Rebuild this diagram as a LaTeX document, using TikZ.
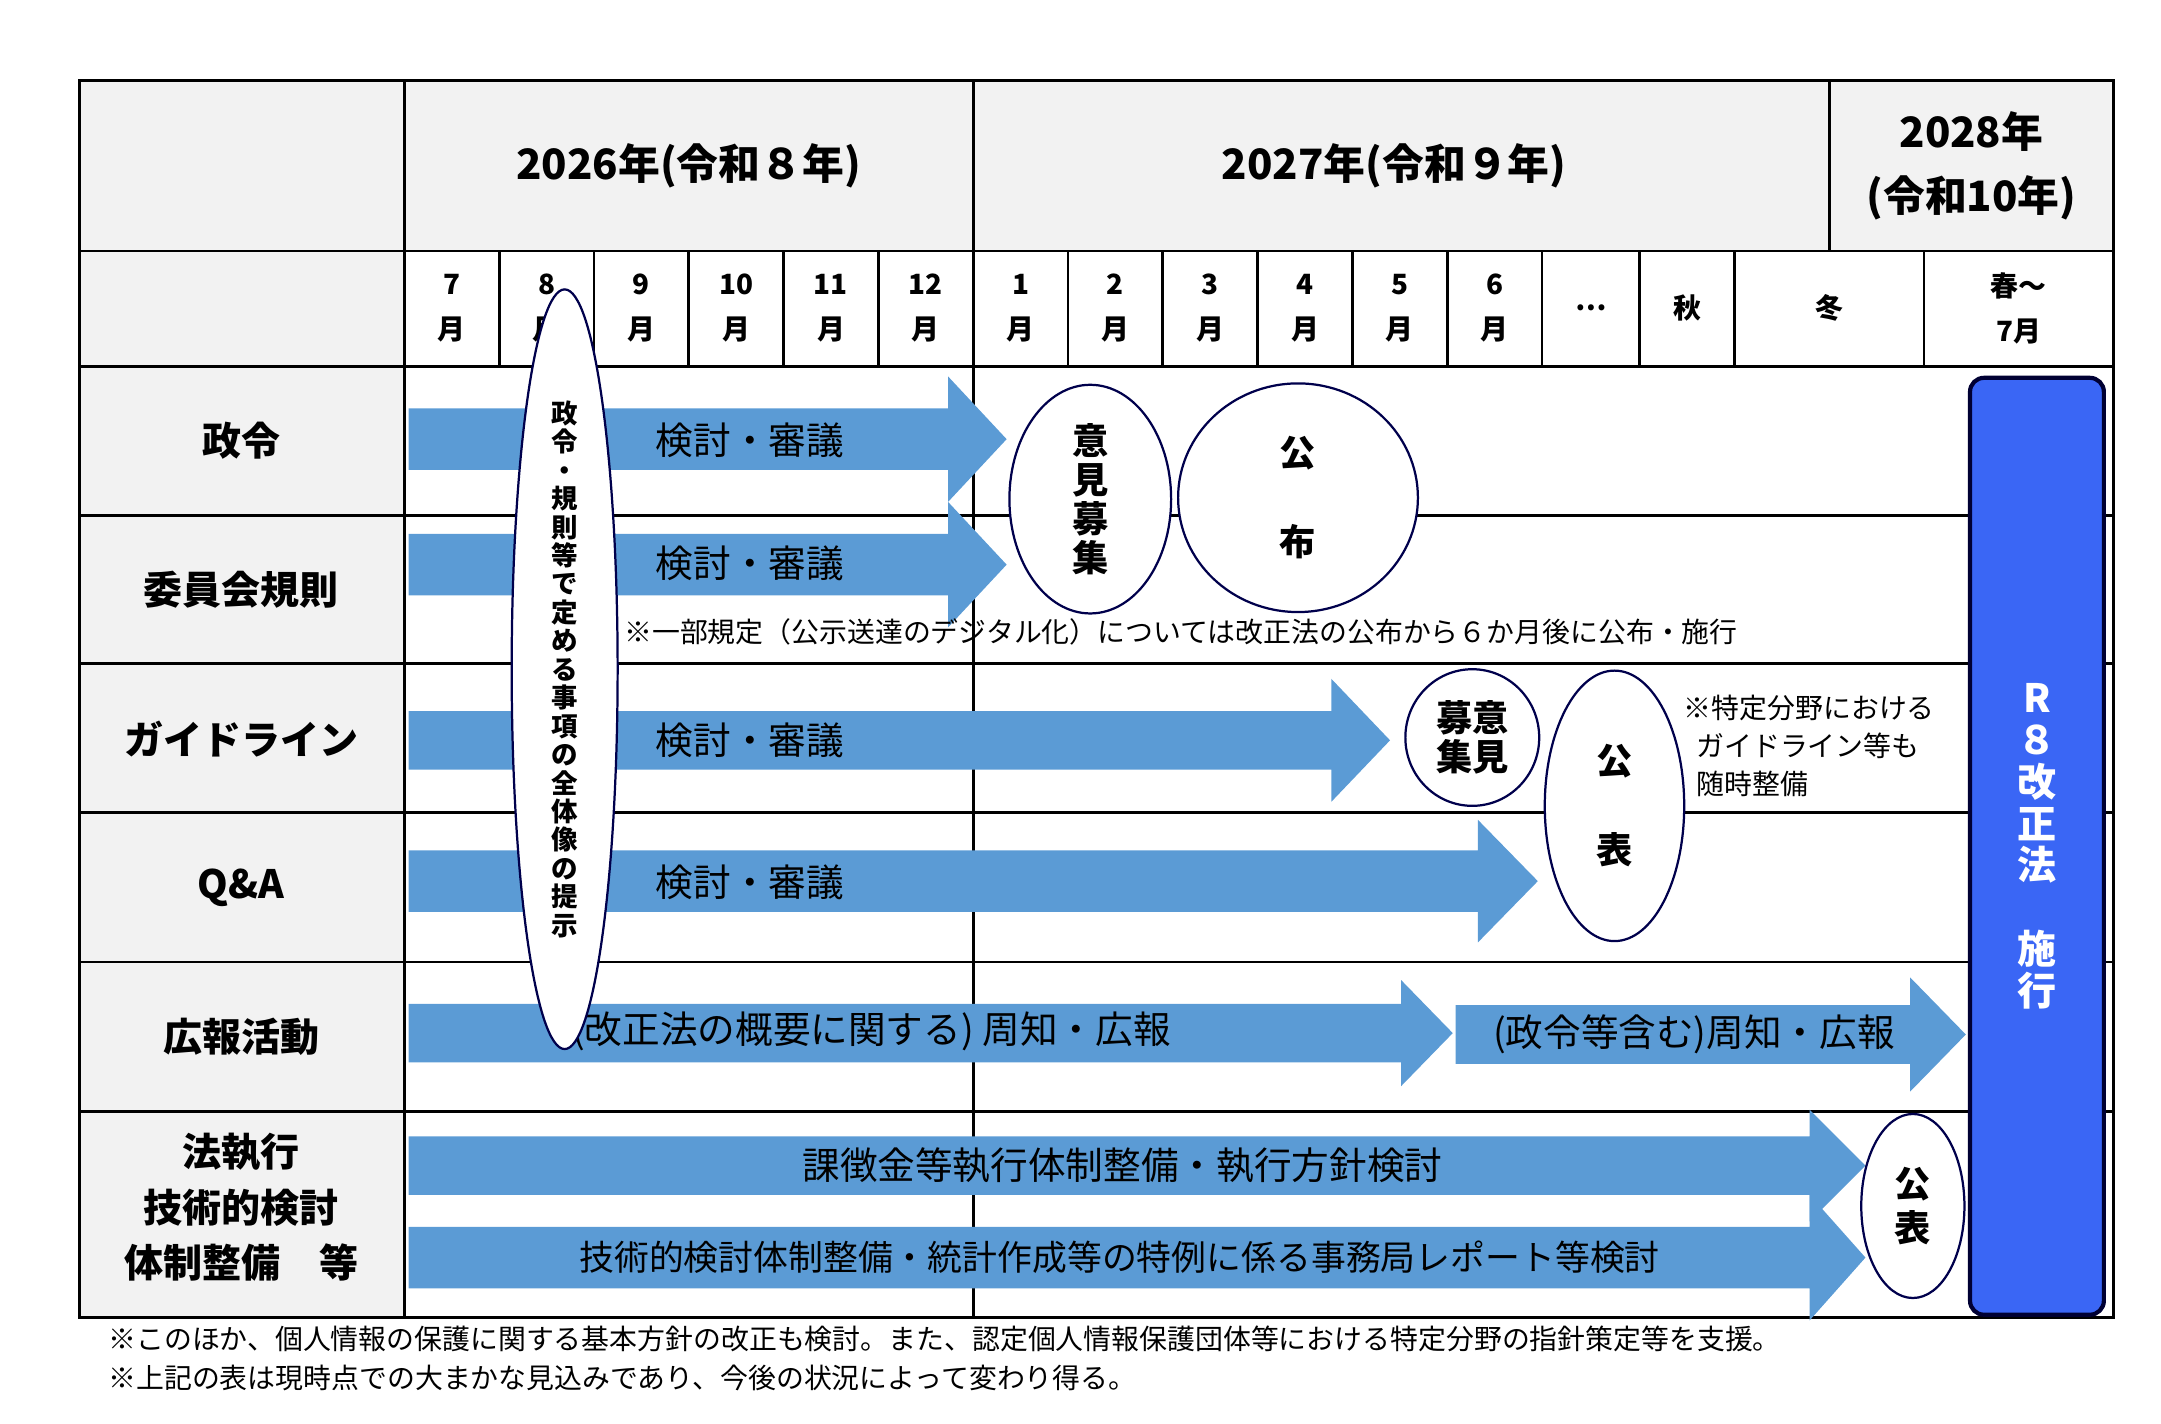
\documentclass[tikz,border=0pt]{standalone}
\usepackage{fontspec}
\setmainfont{Noto Sans CJK JP}
\usetikzlibrary{shapes.geometric}
\definecolor{arrowblue}{HTML}{5B9BD5}
\definecolor{headgray}{HTML}{F2F2F2}
\definecolor{lawblue}{HTML}{3A66F5}
\tikzset{every picture/.style={line width=0.75pt}}
\tikzset{
  cell/.style={draw=black,line width=1pt},
  rowlab/.style={font=\fontsize{14}{16}\selectfont\bfseries},
  month/.style={font=\fontsize{10}{16}\selectfont\bfseries,align=center},
  arrtxt/.style={font=\fontsize{13.5}{15}\selectfont},
  note/.style={font=\fontsize{10}{13}\selectfont,anchor=west,inner sep=0pt},
  oval/.style={ellipse,draw=black!70!blue,fill=white,line width=0.8pt,inner sep=0pt,align=center,font=\fontsize{13}{15}\selectfont\bfseries}
}
% block arrow: x start, head start, tip, centre y, half body, half head
\newcommand{\blockarrow}[6]{%
  \fill[arrowblue] (#1,#4-#5) -- (#2,#4-#5) -- (#2,#4-#6) -- (#3,#4)
    -- (#2,#4+#6) -- (#2,#4+#5) -- (#1,#4+#5) -- cycle;}
\begin{document}
\begin{tikzpicture}[x=0.5pt,y=-0.5pt]
\useasboundingbox (0,0) rectangle (1550,1021);

% header backgrounds
\fill[headgray] (57,58) rectangle (1516,180);
\fill[headgray] (57,180) rectangle (290,945);

% grid
\draw[cell] (57,58) rectangle (1516,945);
\foreach \y in {180,263,370,476,583,690,797} \draw[cell] (57,\y) -- (1516,\y);
\draw[cell] (290,58) -- (290,945);
\draw[cell] (698,58) -- (698,945);
\draw[cell] (1312,58) -- (1312,180);
\foreach \x in {358,426,494,562,630,766,834,902,970,1038,1106,1176,1244,1380}
  \draw[cell] (\x,180) -- (\x,263);

% years
\node[font=\fontsize{15}{17}\selectfont\bfseries] (y26) at (494,119) {2026年(令和８年)};
\node[font=\fontsize{15}{17}\selectfont\bfseries] (y27) at (1000,119) {2027年(令和９年)};
\node[font=\fontsize{15}{23}\selectfont\bfseries,align=center] (y28) at (1414,119) {2028年\\(令和10年)};

% months
\foreach \m [count=\i from 0] in {7,8,9,10,11,12,1,2,3,4,5,6}
  \node[month] (m\i) at (324+68*\i,221) {\m\\月};
\node[month] (mdots) at (1141,221) {…};
\node[month] (maut) at (1210,221) {秋};
\node[month] (mwin) at (1312,221) {冬};
\node[month] (mspr) at (1448,221) {春～\\7月};

% row labels
\node[rowlab] (r1) at (173,316) {政令};
\node[rowlab] (r2) at (173,423) {委員会規則};
\node[rowlab] (r3) at (173,530) {ガイドライン};
\node[rowlab] (r4) at (173,637) {Q\&A};
\node[rowlab] (r5) at (173,744) {広報活動};
\node[rowlab,align=center,font=\fontsize{14}{20}\selectfont\bfseries] (r6) at (173,866) {法執行\\技術的検討\\体制整備　等};

% arrows
\blockarrow{293}{680}{722}{315}{22}{45}
\blockarrow{293}{680}{722}{405}{22}{45}
\blockarrow{293}{955}{997}{531}{21}{44}
\blockarrow{293}{1060}{1103}{632}{22}{44}
\blockarrow{293}{1005}{1042}{741}{21}{38}
\blockarrow{1044}{1370}{1410}{742}{21}{41}
\blockarrow{293}{1298}{1338}{836}{21}{40}
\blockarrow{293}{1298}{1338}{902}{22}{45}
\node[arrtxt] (a1) at (538,316) {検討・審議};
\node[arrtxt] (a2) at (538,404) {検討・審議};
\node[arrtxt] (a3) at (538,531) {検討・審議};
\node[arrtxt] (a4) at (538,633) {検討・審議};
\node[arrtxt] (a5) at (625,740) {(改正法の概要に関する)\ 周知・広報};
\node[arrtxt] (a6) at (1215,742) {(政令等含む)周知・広報};
\node[arrtxt] (a7) at (805,836) {課徴金等執行体制整備・執行方針検討};
\node[arrtxt,font=\fontsize{12.5}{15}\selectfont] (a8) at (803,902) {技術的検討体制整備・統計作成等の特例に係る事務局レポート等検討};

% ovals
\node[oval,minimum width=38pt,minimum height=203pt,font=\fontsize{9.5}{10.2}\selectfont\bfseries] (whole) at (405,480)
  {政\\令\\・\\規\\則\\等\\で\\定\\め\\る\\事\\項\\の\\全\\体\\像\\の\\提\\示};
\node[oval,minimum width=58pt,minimum height=82pt,font=\fontsize{13}{14}\selectfont\bfseries] (opin1) at (782,358) {意\\見\\募\\集};
\node[oval,minimum width=86pt,minimum height=82pt,font=\fontsize{13}{32}\selectfont\bfseries] (promul) at (931,357) {公\\布};
\node[oval,minimum width=48pt,minimum height=49pt,font=\fontsize{13}{14}\selectfont\bfseries] (opin2) at (1056,529) {募意\\集見};
\node[oval,minimum width=50pt,minimum height=97pt,font=\fontsize{13}{32}\selectfont\bfseries] (pub1) at (1158,578) {公\\表};
\node[oval,minimum width=37pt,minimum height=66pt,font=\fontsize{13}{16}\selectfont\bfseries] (pub2) at (1372,865) {公\\表};

% enforcement
\node[draw=black!80!blue,line width=1.5pt,fill=lawblue,rounded corners=5pt,minimum width=48pt,minimum height=336pt,
  text=white,align=center,font=\fontsize{14}{15}\selectfont\bfseries] (law) at (1461,607)
  {R\\８\\改\\正\\法\\\\施\\行};

% notes
\node[note] (n1) at (447,453) {※一部規定（公示送達のデジタル化）については改正法の公布から６か月後に公布・施行};
\node[note,align=left,font=\fontsize{10}{13.5}\selectfont,anchor=north west] (n2) at (1207,498) {※特定分野における\\\ \ ガイドライン等も\\\ \ 随時整備};
\node[note] (f1) at (77,960) {※このほか、個人情報の保護に関する基本方針の改正も検討。また、認定個人情報保護団体等における特定分野の指針策定等を支援。};
\node[note] (f2) at (77,988) {※上記の表は現時点での大まかな見込みであり、今後の状況によって変わり得る。};
\end{tikzpicture}
\end{document}
